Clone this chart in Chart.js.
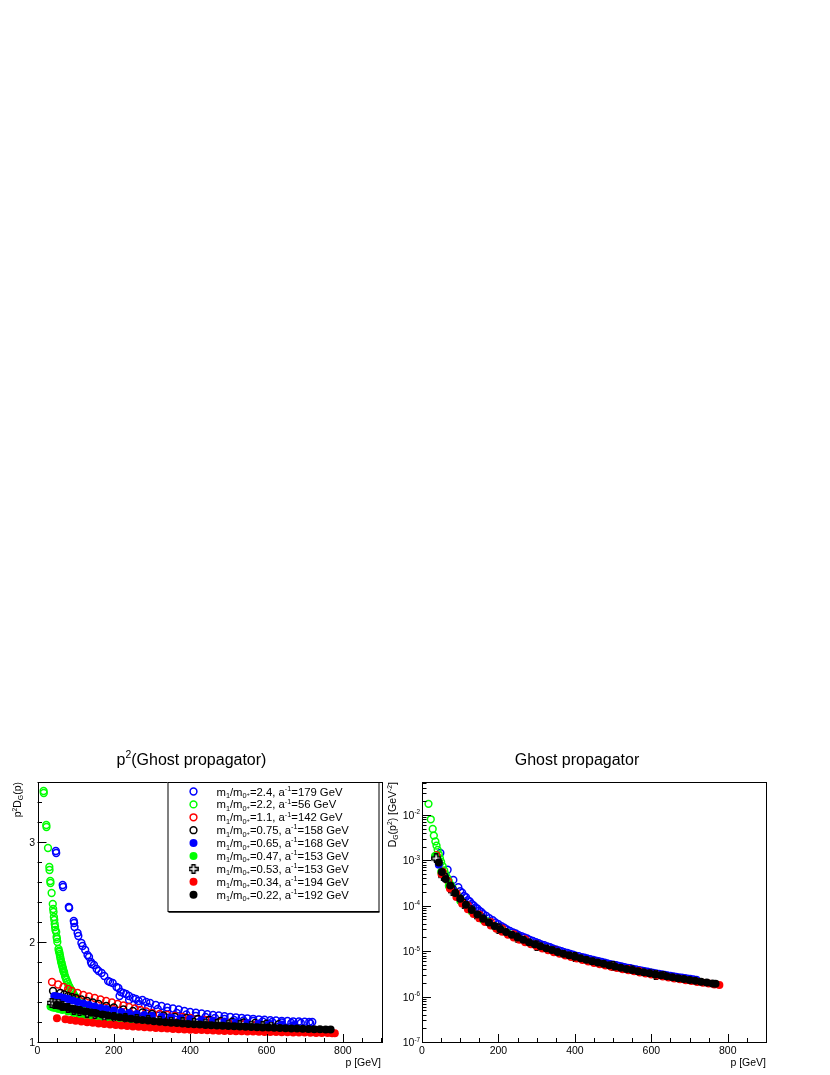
<!DOCTYPE html>
<html>
<head>
<meta charset="utf-8">
<script src="https://cdn.jsdelivr.net/npm/chart.js@4"></script>
<style>
  body { margin: 0; background: #fff; width: 830px; height: 1075px; position: relative; overflow: hidden; }
  canvas { position: absolute; top: 740px; }
  #leftChart { left: 0; }
  #rightChart { left: 385px; }
</style>
</head>
<body>
<canvas id="leftChart" width="400" height="335"></canvas>
<canvas id="rightChart" width="445" height="335"></canvas>
<script>
// legend entries: m1/m0+ ratio and inverse lattice spacing
const ratios = ['2.4', '2.2', '1.1', '0.75', '0.65', '0.47', '0.53', '0.34', '0.22'];
const spacings = ['179', '56', '142', '158', '168', '153', '153', '194', '192'];
const colors = ['#0000ff', '#00ff00', '#ff0000', '#000000', '#0000ff', '#00ff00', '#000000', '#ff0000', '#000000'];
const markers = ['open', 'open', 'open', 'open', 'filled', 'filled', 'cross', 'filled', 'filled'];

const xTickLabels = [0, 200, 400, 600, 800];
const leftYTickLabels = [1, 2, 3];
const rightYTickExps = [-7, -6, -5, -4, -3, -2];

// left panel: [p (GeV), p^2 D_G(p)]
const z24 = [[48,2.91],[49,2.89],[66,2.57],[67,2.55],[82,2.35],[83,2.34],[95,2.21],[96,2.19],[97,2.15],[105,2.09],[107,2.06],[115,1.99],[118,1.96],[125,1.92],[131,1.87],[135,1.85],[140,1.80],[142,1.78],[148,1.77],[155,1.73],[160,1.71],[168,1.69],[175,1.66],[185,1.61],[190,1.60],[197,1.59],[207,1.55],[212,1.54],[218,1.50],[225,1.49],[232,1.48],[240,1.46],[250,1.44],[258,1.43],[265,1.41],[275,1.42],[285,1.40],[295,1.39],[310,1.37],[325,1.36],[340,1.345],[355,1.335],[370,1.325],[385,1.31],[400,1.30],[415,1.293],[430,1.285],[445,1.278],[460,1.27],[475,1.265],[490,1.258],[505,1.252],[520,1.247],[535,1.242],[550,1.237],[565,1.232],[580,1.227],[595,1.223],[610,1.219],[625,1.215],[640,1.212],[655,1.21],[670,1.207],[685,1.205],[700,1.203],[712,1.201],[720,1.2],
  [215,1.46],[240,1.42],[265,1.38],[290,1.35],[315,1.33],[340,1.31],[365,1.29],[390,1.275],[415,1.26],[440,1.25],[465,1.24],[490,1.23],[515,1.22],[540,1.215],[565,1.21],[590,1.205],[615,1.2],[640,1.195],[665,1.19],[690,1.19],[715,1.185]];
const z22 = [[16,3.51],[16.5,3.49],[23,3.17],[23.5,3.15],[27.5,2.94],[31,2.75],[31.5,2.72],[33.5,2.61],[34,2.59],[37,2.49],[40,2.38],[41,2.33],[42,2.30],[43,2.25],[44,2.22],[45,2.18],[46,2.15],[47,2.12],[49,2.10],[50,2.05],[51,2.03],[52,2.00],[55,1.93],[56,1.91],[57,1.90],[58,1.88],[59,1.86],[60,1.84],[61,1.82],[62,1.80],[63,1.79],[64,1.77],[65,1.76],[66,1.74],[67,1.73],[68,1.71],[69,1.70],[70,1.69],[72,1.66],[74,1.64],[76,1.62],[78,1.60],[80,1.58],[82,1.56],[84,1.55],[86,1.53],[88,1.52],[90,1.51],[93,1.49],[96,1.47],[100,1.45],[105,1.43],[110,1.41],[120,1.38],[130,1.36],[140,1.34],[150,1.32],[165,1.30],[180,1.28],[195,1.265],[210,1.25],[224,1.24]];
const z11 = [[38,1.60],[54,1.575],[68,1.55],[80,1.53],[90,1.51],[105,1.49],[120,1.47],[135,1.455],[150,1.44],[165,1.425],[180,1.41],[195,1.395],[210,1.38],[225,1.365],[240,1.35],[255,1.335],[270,1.32],[285,1.305],[300,1.29],[320,1.28],[340,1.27],[360,1.26],[380,1.25],[400,1.24],[420,1.23],[440,1.22],[460,1.21],[480,1.20],[500,1.19],[520,1.182],[540,1.175],[555,1.17],[568,1.165]];
const z075 = [[40.6,1.51],[60,1.49],[70,1.475],[80,1.46],[90,1.45],[100,1.44],[115,1.425],[130,1.41],[145,1.395],[160,1.38],[180,1.36],[200,1.345],[225,1.325],[250,1.31],[275,1.295],[300,1.28],[330,1.265],[360,1.25],[390,1.24],[420,1.23],[450,1.22],[480,1.21],[510,1.203],[540,1.196],[570,1.19],[600,1.184],[632,1.178]];
const z065 = [[44,1.46],[52,1.455],[60,1.45],[70,1.44],[80,1.43],[92,1.415],[105,1.40],[120,1.385],[135,1.37],[150,1.355],[165,1.34],[180,1.33],[200,1.315],[220,1.30],[240,1.29],[260,1.28],[280,1.27],[300,1.262],[325,1.253],[350,1.245],[375,1.237],[400,1.23],[430,1.22],[460,1.212],[490,1.205],[520,1.198],[550,1.19],[580,1.185],[610,1.18],[640,1.175],[672,1.17]];
const z047 = [[34,1.355],[40,1.345],[46,1.34],[55,1.33],[65,1.32],[80,1.305],[95,1.29],[110,1.275],[125,1.262],[140,1.25],[155,1.24],[170,1.232],[185,1.225],[200,1.218],[220,1.21],[240,1.202],[260,1.195],[280,1.189],[300,1.183],[330,1.175],[360,1.168],[390,1.162],[420,1.156],[450,1.15],[480,1.145],[510,1.14],[540,1.135],[570,1.131],[600,1.127],[612,1.125]];
const z053 = [[37,1.39],[45,1.385],[55,1.385],[65,1.36],[80,1.34],[95,1.325],[110,1.31],[130,1.295],[150,1.28],[175,1.265],[200,1.25],[230,1.238],[260,1.228],[290,1.218],[320,1.21],[350,1.203],[380,1.196],[410,1.19],[440,1.184],[470,1.178],[500,1.173],[530,1.168],[560,1.163],[590,1.158],[612,1.155]];
const z034 = [[51,1.237],[73,1.227],[86,1.22],[100,1.212],[115,1.205],[130,1.198],[145,1.192],[160,1.186],[175,1.18],[190,1.175],[205,1.17],[220,1.165],[235,1.16],[250,1.156],[265,1.152],[280,1.148],[295,1.144],[310,1.14],[325,1.137],[340,1.134],[355,1.131],[370,1.128],[385,1.126],[400,1.123],[415,1.121],[430,1.119],[445,1.117],[460,1.115],[475,1.113],[490,1.111],[505,1.11],[520,1.108],[535,1.107],[550,1.105],[565,1.104],[580,1.102],[595,1.101],[610,1.1],[625,1.099],[640,1.098],[655,1.097],[670,1.096],[685,1.095],[700,1.094],[715,1.092],[730,1.091],[745,1.09],[760,1.089],[772,1.088],[779,1.087]];
const z022 = [[51,1.37],[55,1.365],[62,1.36],[70,1.352],[80,1.342],[90,1.333],[100,1.325],[112,1.315],[125,1.305],[140,1.295],[155,1.285],[170,1.275],[185,1.265],[200,1.256],[215,1.248],[230,1.24],[245,1.233],[260,1.226],[275,1.22],[290,1.214],[305,1.208],[320,1.203],[335,1.198],[350,1.193],[365,1.189],[380,1.185],[395,1.181],[410,1.177],[425,1.174],[440,1.171],[455,1.168],[470,1.165],[485,1.162],[500,1.16],[515,1.157],[530,1.155],[545,1.152],[560,1.15],[575,1.148],[590,1.146],[605,1.144],[620,1.142],[635,1.14],[650,1.138],[665,1.136],[680,1.134],[695,1.132],[710,1.13],[725,1.128],[740,1.127],[755,1.126],[768,1.125]];

// right panel: [p (GeV), D_G(p^2) in GeV^-2]
const d24 = [[48,1.45e-3],[67,6.2e-4],[82,3.7e-4],[95,2.55e-4],[105,1.95e-4],[115,1.55e-4],[125,1.25e-4],[135,1.02e-4],[145,8.6e-5],[155,7.3e-5],[168,6.0e-5],[185,4.8e-5],[200,3.95e-5],[215,3.3e-5],[230,2.8e-5],[245,2.45e-5],[260,2.15e-5],[275,1.9e-5],[290,1.68e-5],[305,1.5e-5],[320,1.35e-5],[335,1.22e-5],[350,1.1e-5],[365,1.0e-5],[380,9.2e-6],[395,8.4e-6],[410,7.8e-6],[425,7.2e-6],[440,6.65e-6],[455,6.2e-6],[470,5.8e-6],[485,5.4e-6],[500,5.05e-6],[515,4.75e-6],[530,4.45e-6],[545,4.2e-6],[560,3.95e-6],[575,3.72e-6],[590,3.52e-6],[605,3.33e-6],[620,3.16e-6],[635,3.0e-6],[650,2.86e-6],[665,2.72e-6],[680,2.6e-6],[695,2.49e-6],[710,2.39e-6],[718,2.34e-6],
  [100,2.1e-4],[110,1.65e-4],[120,1.33e-4],[130,1.1e-4],[140,9.2e-5],[150,7.8e-5],[160,6.6e-5],[176,5.3e-5],[192,4.3e-5],[208,3.55e-5],[222,3.0e-5],[238,2.6e-5],[252,2.28e-5],[268,2.0e-5],[282,1.78e-5],[298,1.57e-5],[312,1.41e-5],[328,1.27e-5],[342,1.15e-5],[358,1.04e-5],[372,9.5e-6],[388,8.7e-6],[402,8.0e-6],[418,7.4e-6],[432,6.9e-6],[448,6.4e-6],[462,6.0e-6],[478,5.6e-6],[492,5.2e-6],[508,4.9e-6],[522,4.6e-6],[538,4.3e-6],[552,4.05e-6],[568,3.83e-6],[582,3.62e-6],[598,3.42e-6],[612,3.24e-6],[628,3.08e-6],[642,2.93e-6],[658,2.79e-6],[672,2.66e-6],[688,2.54e-6],[702,2.44e-6]];
const d22 = [[17,1.75e-2],[23,8.0e-3],[28,4.9e-3],[31,3.5e-3],[35,2.6e-3],[38,2.1e-3],[41,1.7e-3],[44,1.35e-3],[47,1.1e-3],[50,9.2e-4],[54,7.4e-4],[58,6.0e-4],[62,4.9e-4],[66,4.1e-4],[70,3.5e-4],[75,2.9e-4],[80,2.45e-4],[90,1.85e-4],[100,1.45e-4],[115,1.05e-4],[130,8.0e-5],[150,5.9e-5],[170,4.5e-5],[190,3.5e-5],[210,2.85e-5],[224,2.5e-5]];
const d11 = [[38,1.3e-3],[54,5.6e-4],[68,3.5e-4],[90,1.9e-4],[120,1.02e-4],[150,6.4e-5],[180,4.35e-5],[210,3.13e-5],[240,2.35e-5],[270,1.81e-5],[300,1.43e-5],[350,1.03e-5],[400,7.7e-6],[450,5.97e-6],[500,4.76e-6],[540,4.03e-6],[568,3.61e-6]];
const d075 = [[41,1.0e-3],[60,4.3e-4],[80,2.35e-4],[100,1.45e-4],[130,8.4e-5],[160,5.4e-5],[200,3.4e-5],[250,2.1e-5],[300,1.42e-5],[350,1.03e-5],[400,7.75e-6],[450,6.05e-6],[500,4.84e-6],[550,3.97e-6],[600,3.31e-6],[632,2.97e-6]];
const d065 = [[44,8.0e-4],[60,4.1e-4],[80,2.25e-4],[100,1.42e-4],[130,8.2e-5],[160,5.3e-5],[200,3.33e-5],[250,2.08e-5],[300,1.41e-5],[350,1.02e-5],[400,7.66e-6],[450,5.98e-6],[500,4.78e-6],[550,3.9e-6],[600,3.25e-6],[650,2.75e-6],[672,2.56e-6]];
const d047 = [[34,1.25e-3],[50,5.5e-4],[70,2.75e-4],[100,1.29e-4],[130,7.5e-5],[160,4.85e-5],[200,3.05e-5],[250,1.92e-5],[300,1.32e-5],[400,7.25e-6],[500,4.56e-6],[612,3.0e-6]];
const d053 = [[37,1.1e-3],[55,4.6e-4],[80,2.1e-4],[110,1.08e-4],[150,5.65e-5],[200,3.1e-5],[250,1.95e-5],[300,1.33e-5],[400,7.35e-6],[500,4.62e-6],[612,3.04e-6]];
const d034 = [[51,5.0e-4],[73,2.4e-4],[90,1.55e-4],[105,1.12e-4],[120,8.4e-5],[135,6.6e-5],[150,5.3e-5],[165,4.4e-5],[180,3.65e-5],[195,3.1e-5],[210,2.66e-5],[225,2.3e-5],[240,2.0e-5],[255,1.78e-5],[270,1.58e-5],[285,1.42e-5],[300,1.28e-5],[315,1.15e-5],[330,1.05e-5],[345,9.5e-6],[360,8.8e-6],[375,8.05e-6],[390,7.4e-6],[405,6.85e-6],[420,6.35e-6],[435,5.9e-6],[450,5.5e-6],[465,5.15e-6],[480,4.83e-6],[495,4.53e-6],[510,4.27e-6],[525,4.02e-6],[540,3.8e-6],[555,3.6e-6],[570,3.4e-6],[585,3.22e-6],[600,3.06e-6],[615,2.9e-6],[630,2.76e-6],[645,2.63e-6],[660,2.51e-6],[675,2.4e-6],[690,2.29e-6],[705,2.19e-6],[720,2.1e-6],[735,2.01e-6],[750,1.93e-6],[765,1.85e-6],[778,1.79e-6]];
const d022 = [[44,9.0e-4],[52,5.5e-4],[62,3.9e-4],[74,2.8e-4],[87,1.9e-4],[100,1.42e-4],[115,1.05e-4],[130,8.1e-5],[145,6.4e-5],[160,5.2e-5],[175,4.3e-5],[190,3.6e-5],[205,3.05e-5],[220,2.65e-5],[235,2.3e-5],[250,2.0e-5],[265,1.78e-5],[280,1.58e-5],[295,1.42e-5],[310,1.28e-5],[325,1.16e-5],[340,1.06e-5],[355,9.6e-6],[370,8.8e-6],[385,8.1e-6],[400,7.5e-6],[415,7.0e-6],[430,6.5e-6],[445,6.0e-6],[460,5.6e-6],[475,5.25e-6],[490,4.9e-6],[505,4.6e-6],[520,4.3e-6],[535,4.05e-6],[550,3.85e-6],[565,3.6e-6],[580,3.42e-6],[595,3.25e-6],[610,3.08e-6],[625,2.93e-6],[640,2.79e-6],[655,2.66e-6],[670,2.54e-6],[685,2.43e-6],[700,2.32e-6],[715,2.22e-6],[730,2.12e-6],[745,2.03e-6],[760,1.95e-6],[768,1.92e-6]];

const leftSeries = [z24, z22, z11, z075, z065, z047, z053, z034, z022];
const rightSeries = [d24, d22, d11, d075, d065, d047, d053, d034, d022];

const FONT = '"Liberation Sans", Arial, sans-serif';
const OPEN_R = 3.4, OPEN_W = 1.5, FILL_R = 4;

// open cross marker (ROOT style 28)
const crossImg = document.createElement('canvas');
crossImg.width = 10;
crossImg.height = 10;
(() => {
    const c = crossImg.getContext('2d');
    const o = 5, a = 1.5, b = 4.2;
    c.beginPath();
    c.moveTo(o - a, o - b); c.lineTo(o + a, o - b); c.lineTo(o + a, o - a); c.lineTo(o + b, o - a);
    c.lineTo(o + b, o + a); c.lineTo(o + a, o + a); c.lineTo(o + a, o + b); c.lineTo(o - a, o + b);
    c.lineTo(o - a, o + a); c.lineTo(o - b, o + a); c.lineTo(o - b, o - a); c.lineTo(o - a, o - a);
    c.closePath();
    c.fillStyle = '#fff';
    c.fill();
    c.lineWidth = 1.4;
    c.strokeStyle = '#000';
    c.stroke();
})();

// text with sub/superscripts: parts = [text, raise (fraction of size), scale]
const richWidth = (ctx, parts, size) => {
    let w = 0;
    parts.forEach(([t, dy, sc]) => {
        ctx.font = (size * sc) + 'px ' + FONT;
        w += ctx.measureText(t).width;
    });
    return w;
};
const drawRich = (ctx, parts, x, y, size, align) => {
    const w = richWidth(ctx, parts, size);
    let cx = align === 'right' ? x - w : (align === 'center' ? x - w / 2 : x);
    ctx.textAlign = 'left';
    ctx.textBaseline = 'alphabetic';
    ctx.fillStyle = '#000';
    parts.forEach(([t, dy, sc]) => {
        ctx.font = (size * sc) + 'px ' + FONT;
        ctx.fillText(t, cx, y - dy * size);
        cx += ctx.measureText(t).width;
    });
};
const SUP = 0.42, SUB = -0.22, SM = 0.65;

const legendParts = (i) => [['m', 0, 1], ['1', SUB, SM], ['/m', 0, 1], ['0', SUB, SM], ['+', -0.08, 0.5],
    ['=' + ratios[i] + ', a', 0, 1], ['-1', SUP, SM], ['=' + spacings[i] + ' GeV', 0, 1]];

const line = (ctx, x1, y1, x2, y2) => {
    ctx.beginPath();
    ctx.moveTo(x1, y1);
    ctx.lineTo(x2, y2);
    ctx.stroke();
};

const drawMarker = (ctx, i, x, y) => {
    if (markers[i] === 'cross') {
        ctx.drawImage(crossImg, x - crossImg.width / 2, y - crossImg.height / 2);
        return;
    }
    ctx.beginPath();
    if (markers[i] === 'open') {
        ctx.arc(x, y, OPEN_R, 0, Math.PI * 2);
        ctx.lineWidth = OPEN_W;
        ctx.strokeStyle = colors[i];
        ctx.stroke();
    } else {
        ctx.arc(x, y, FILL_R, 0, Math.PI * 2);
        ctx.fillStyle = colors[i];
        ctx.fill();
    }
};

const rootFrame = {
    id: 'rootFrame',
    afterDatasetsDraw(chart, args, opts) {
        const ctx = chart.ctx;
        const a = chart.chartArea;
        const xs = chart.scales.x;
        const ys = chart.scales.y;
        ctx.save();
        ctx.strokeStyle = '#000';
        ctx.lineWidth = 1;
        ctx.strokeRect(Math.round(a.left) + 0.5, Math.round(a.top) + 0.5, Math.round(a.right - a.left), Math.round(a.bottom - a.top));

        // x axis ticks (inside the frame)
        for (let v = 0; v <= 900; v += 50) {
            const px = Math.round(xs.getPixelForValue(v)) + 0.5;
            line(ctx, px, a.bottom, px, a.bottom - (v % 200 === 0 ? 8 : 4));
        }
        xTickLabels.forEach((v) => {
            drawRich(ctx, [[String(v), 0, 1]], xs.getPixelForValue(v), a.bottom + 12, 10.5, 'center');
        });
        drawRich(ctx, [['p [GeV]', 0, 1]], a.right, a.bottom + 24, 10.5, 'right');

        // y axis ticks
        if (opts.log) {
            for (let e = -7; e <= -2; e++) {
                for (let k = 1; k <= 9; k++) {
                    const v = k * Math.pow(10, e);
                    if (v > ys.max) break;
                    const py = Math.round(ys.getPixelForValue(v)) + 0.5;
                    line(ctx, a.left, py, a.left + (k === 1 ? 9 : 4.5), py);
                }
            }
            rightYTickExps.forEach((e) => {
                drawRich(ctx, [['10', 0, 1], [String(e), SUP, 0.6]], a.left - 2, ys.getPixelForValue(Math.pow(10, e)) + 4, 10.5, 'right');
            });
        } else {
            for (let k = 0; k <= 13; k++) {
                const v = 1 + k * 0.2;
                if (v > ys.max) break;
                const py = Math.round(ys.getPixelForValue(v)) + 0.5;
                line(ctx, a.left, py, a.left + (k % 5 === 0 ? 9 : 4.5), py);
            }
            leftYTickLabels.forEach((v) => {
                drawRich(ctx, [[String(v), 0, 1]], a.left - 2.5, ys.getPixelForValue(v) + 4, 10.5, 'right');
            });
        }

        // y axis title, rotated, aligned to top of axis
        ctx.save();
        ctx.translate(opts.yTitleX, a.top);
        ctx.rotate(-Math.PI / 2);
        drawRich(ctx, opts.yTitle, 0, 0, 10.5, 'right');
        ctx.restore();

        // pad title
        drawRich(ctx, opts.title, opts.titleX, 25, 16, 'center');

        // legend box
        if (opts.legend) {
            const L = opts.legend;
            ctx.fillStyle = '#fff';
            ctx.fillRect(L.x, L.y, L.w, L.h);
            ctx.strokeStyle = '#000';
            ctx.lineWidth = 1;
            ctx.strokeRect(L.x + 0.5, L.y + 0.5, L.w, L.h);
            ctx.lineWidth = 1.5;
            line(ctx, L.x + 1, L.y + L.h + 1, L.x + L.w + 1, L.y + L.h + 1);
            ratios.forEach((r, i) => {
                const ry = L.y + 9.5 + i * 12.9;
                drawMarker(ctx, i, L.x + 26, ry);
                drawRich(ctx, legendParts(i), L.x + 49, ry + 4, 11.3, 'left');
            });
        }
        ctx.restore();
    }
};

const makeDatasets = (series) => series.map((pts, i) => {
    const open = markers[i] === 'open';
    const cross = markers[i] === 'cross';
    return {
        label: 'm1/m0+=' + ratios[i] + ', a-1=' + spacings[i] + ' GeV',
        data: pts.map(([x, y]) => ({ x: x, y: y })),
        showLine: false,
        order: series.length - i,
        pointStyle: cross ? crossImg : 'circle',
        pointRadius: open ? OPEN_R : FILL_R,
        pointBorderWidth: open ? OPEN_W : 0,
        pointBorderColor: colors[i],
        pointBackgroundColor: open ? 'rgba(0,0,0,0)' : colors[i],
    };
});

const makeChart = (id, series, yScale, pad, yWidth, frameOpts) => {
    new Chart(document.getElementById(id), {
        type: 'scatter',
        data: { datasets: makeDatasets(series) },
        options: {
            responsive: false,
            animation: false,
            events: [],
            layout: { padding: pad, autoPadding: false },
            scales: {
                x: {
                    type: 'linear', min: 0, max: 900,
                    ticks: { display: false }, grid: { display: false }, border: { display: false },
                    afterFit: (scale) => { scale.height = 33; },
                },
                y: Object.assign(yScale, {
                    ticks: { display: false }, grid: { display: false }, border: { display: false },
                    afterFit: (scale) => { scale.width = yWidth; },
                }),
            },
            plugins: {
                legend: { display: false },
                tooltip: { enabled: false },
                rootFrame: frameOpts,
            },
        },
        plugins: [rootFrame],
    });
};

makeChart('leftChart', leftSeries, { type: 'linear', min: 1, max: 3.6 },
    { top: 42, right: 19, left: 0, bottom: 0 }, 37.5, {
        log: false,
        title: [['p', 0, 1], ['2', SUP, SM], ['(Ghost propagator)', 0, 1]],
        titleX: 191.5,
        yTitle: [['p', 0, 1], ['2', SUP, SM], ['D', 0, 1], ['G', SUB, SM], ['(p)', 0, 1]],
        yTitleX: 21,
        legend: { x: 167.5, y: 42, w: 211, h: 129 },
    });

makeChart('rightChart', rightSeries, { type: 'logarithmic', min: 1e-7, max: 0.053 },
    { top: 42, right: 64, left: 0, bottom: 0 }, 37, {
        log: true,
        title: [['Ghost propagator', 0, 1]],
        titleX: 192,
        yTitle: [['D', 0, 1], ['G', SUB, SM], ['(p', 0, 1], ['2', SUP, SM], [') [GeV', 0, 1], ['-2', SUP, SM], [']', 0, 1]],
        yTitleX: 11,
        legend: null,
    });
</script>
</body>
</html>
